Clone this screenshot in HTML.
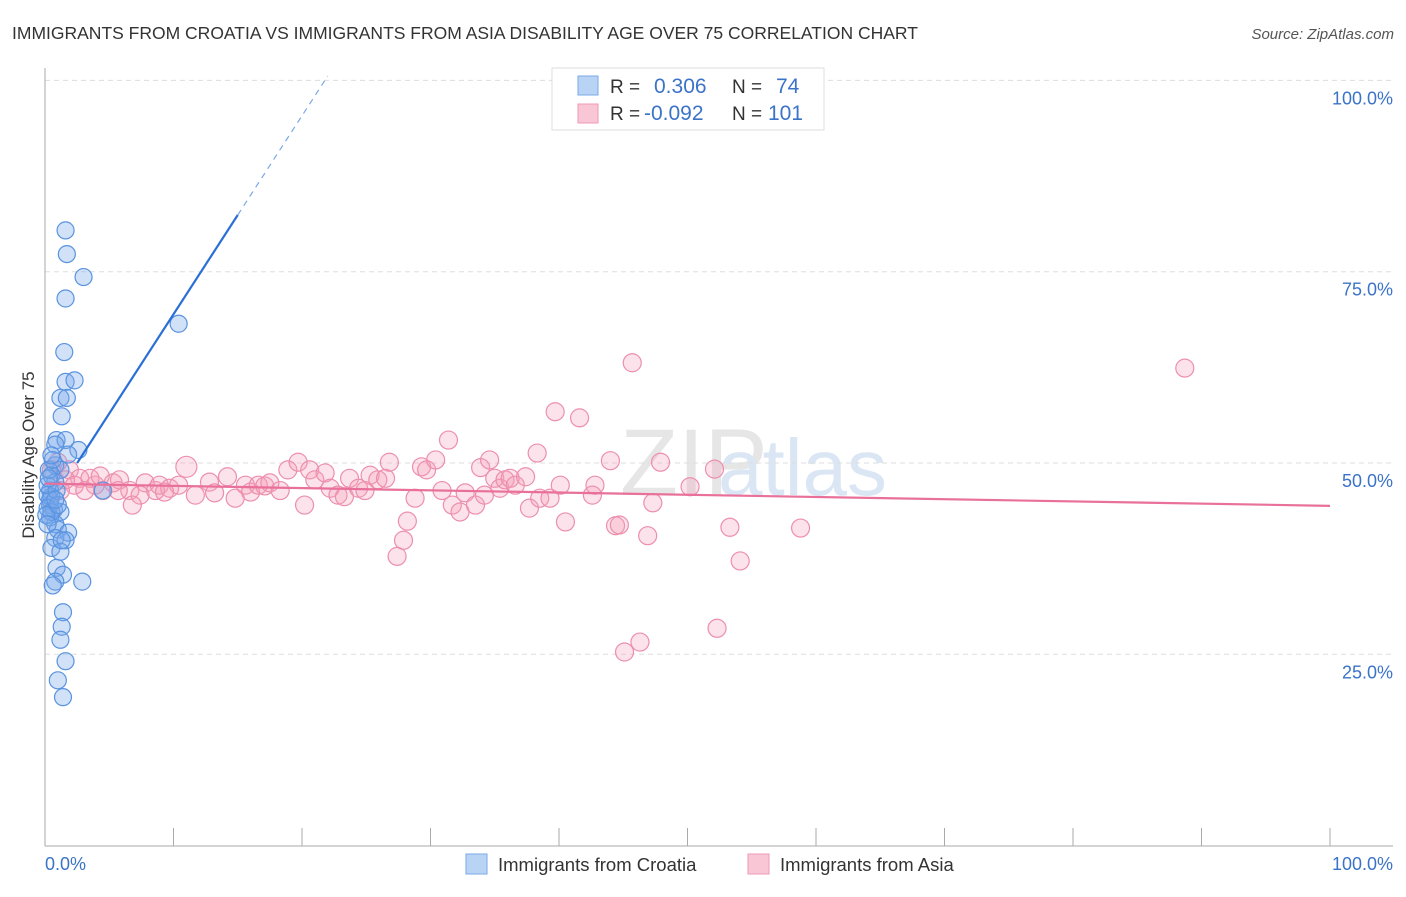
<!DOCTYPE html>
<html><head><meta charset="utf-8"><style>
body{margin:0;background:#fff;font-family:"Liberation Sans",sans-serif}
svg text{font-family:"Liberation Sans",sans-serif}
</style></head><body>
<svg id="chart" width="1406" height="892" xmlns="http://www.w3.org/2000/svg">
<text x="12" y="39" font-size="17.5" fill="#333">IMMIGRANTS FROM CROATIA VS IMMIGRANTS FROM ASIA DISABILITY AGE OVER 75 CORRELATION CHART</text>
<text x="1394" y="39" font-size="15" fill="#555" font-style="italic" text-anchor="end">Source: ZipAtlas.com</text>
<text x="620" y="495" font-size="95" fill="#e6e6e6" font-family="Liberation Serif">ZIP</text>
<text x="718" y="495" font-size="80" fill="#dbe6f5">atlas</text>
<g id="grid"></g>
<g id="axes"></g>
<g id="pts"></g>
<g id="lines"></g>
<text transform="translate(34,455) rotate(-90)" font-size="17" fill="#333" text-anchor="middle">Disability Age Over 75</text>
<text x="45" y="870" font-size="18" fill="#3b73c8">0.0%</text>
<text x="1393" y="870" font-size="18" fill="#3b73c8" text-anchor="end">100.0%</text>
<g>
<rect x="552" y="68" width="272" height="62" fill="#fff" stroke="#ddd"/>
<rect x="578" y="76" width="20" height="19" fill="#b9d3f5" stroke="#7aa8e8"/>
<rect x="578" y="104" width="20" height="19" fill="#f9c6d6" stroke="#ef9ab5"/>
<text x="610" y="93" font-size="19" fill="#333">R =</text><text x="654" y="93" font-size="21" fill="#3b73c8">0.306</text>
<text x="732" y="93" font-size="19" fill="#333">N =</text><text x="776" y="93" font-size="21" fill="#3b73c8">74</text>
<text x="610" y="120" font-size="19" fill="#333">R =</text><text x="644" y="120" font-size="21" fill="#3b73c8">-0.092</text>
<text x="732" y="120" font-size="19" fill="#333">N =</text><text x="768" y="120" font-size="21" fill="#3b73c8">101</text>
</g>
<g>
<rect x="466" y="854" width="21" height="20" fill="#b9d3f5" stroke="#7aa8e8"/>
<text x="498" y="871" font-size="18.5" fill="#333">Immigrants from Croatia</text>
<rect x="748" y="854" width="21" height="20" fill="#f9c6d6" stroke="#ef9ab5"/>
<text x="780" y="871" font-size="18.5" fill="#333">Immigrants from Asia</text>
</g>
</svg>
<script>
const yTicks=[25,50,75,100];
const yTickLabels=["25.0%","50.0%","75.0%","100.0%"];
const xTicks=[0,10,20,30,40,50,60,70,80,90,100];
const blueX=[1.6,1.7,3.0,1.6,10.4,1.5,1.6,2.3,1.2,1.7,1.3,0.9,1.6,2.6,0.8,1.8,0.8,1.2,0.5,0.8,0.4,0.5,0.4,0.7,1.2,0.4,0.8,1.0,1.8,0.8,1.6,0.5,1.2,0.9,1.4,0.8,2.9,0.6,1.4,1.3,1.2,1.6,1.0,1.4,4.5,0.2,0.4,0.2,0.5,0.2,0.9,0.3,0.6,0.1,1.0,0.2,1.3,0.3,0.5,0.8];
const blueY=[80.4,77.3,74.3,71.5,68.2,64.5,60.6,60.8,58.5,58.5,56.1,53.0,53.0,51.7,52.4,51.1,49.7,49.1,48.4,47.5,46.4,45.6,44.5,43.9,43.6,42.9,42.0,41.3,40.9,40.2,39.9,38.9,38.4,36.3,35.4,34.5,34.5,34.0,30.5,28.6,26.9,24.1,21.6,19.4,46.4,45.8,45.2,44.1,43.6,47.1,46.4,49.1,50.4,43.2,44.5,42.0,39.9,48.0,51.0,45.2];
const pinkX=[1.9,2.7,3.9,4.5,5.3,5.8,6.6,7.8,8.6,8.9,9.7,10.4,11.0,11.7,12.8,13.2,14.2,14.8,15.6,16.0,16.6,17.1,17.5,18.3,18.9,19.7,20.2,20.6,21.0,21.8,22.2,22.8,23.3,23.7,24.4,24.9,25.3,25.9,26.5,26.8,27.4,27.9,28.2,28.8,29.3,29.7,30.4,30.9,31.4,31.7,32.3,32.7,33.5,33.9,34.2,34.6,35.0,35.4,35.8,36.2,36.6,37.4,37.7,38.3,38.5,39.3,39.7,40.1,40.5,41.6,42.6,42.8,44.0,44.4,44.7,45.1,45.7,46.3,46.9,47.3,47.9,50.2,52.1,52.3,53.3,54.1,58.8,88.7,3.5,4.3,5.7,7.4,9.3,1.0,1.6,2.3,3.1,0.5,1.2,6.8];
const pinkY=[49.1,48.0,47.1,46.4,47.4,47.8,46.4,47.4,46.4,47.1,46.7,47.1,49.5,45.8,47.5,46.1,48.2,45.4,47.1,46.2,47.1,47.0,47.4,46.4,49.1,50.1,44.5,49.1,47.8,48.7,46.7,45.8,45.6,48.0,46.7,46.4,48.4,47.8,48.0,50.1,37.8,39.9,42.4,45.4,49.5,49.1,50.4,46.4,53.0,44.5,43.6,46.1,44.5,49.4,45.8,50.4,48.0,46.7,47.8,48.0,47.1,48.2,44.1,51.3,45.4,45.4,56.7,47.1,42.3,55.9,45.8,47.1,50.3,41.8,41.9,25.3,63.1,26.6,40.5,44.8,50.1,46.9,49.2,28.4,41.6,37.2,41.5,62.4,48.0,48.3,46.4,45.8,46.2,50.1,47.8,47.1,46.4,49.1,46.4,44.5];
const blueFit=[43.5,2.594];
const pinkFit=[47.3,-0.029];
const sx=v=>45+v*12.85;
const sy=v=>845.6-v*7.652;
const NS="http://www.w3.org/2000/svg";
function mk(parent,tag,attrs){const e=document.createElementNS(NS,tag);for(const k in attrs)e.setAttribute(k,attrs[k]);document.getElementById(parent).appendChild(e);return e;}
yTicks.forEach((t,i)=>{
 const l=mk('grid','line',{x1:45,x2:1393,y1:sy(t),y2:sy(t),stroke:'#ddd','stroke-dasharray':'5,4'});
 
 
 const tx=mk('grid','text',{x:1393,y:sy(t)+24,'font-size':18,fill:'#3b73c8','text-anchor':'end'});
 tx.textContent=yTickLabels[i];
 
 
});
const ya=mk('axes','line',{x1:45,x2:45,y1:68,y2:846,stroke:'#aaa'});


const xa=mk('axes','line',{x1:45,x2:1393,y1:846,y2:846,stroke:'#aaa'});


xTicks.forEach(t=>{
 const l=mk('axes','line',{x1:sx(t),x2:sx(t),y1:828,y2:846,stroke:'#aaa'});
 
 
});
pinkX.forEach((x,i)=>{
 const c=mk('pts','circle',{cx:sx(x),cy:sy(pinkY[i]),r:(i==12?10.5:9),fill:'rgba(244,160,186,0.3)',stroke:'#ec8fae','stroke-width':1.2});
 
 
});
blueX.forEach((x,i)=>{
 const c=mk('pts','circle',{cx:sx(x),cy:sy(blueY[i]),r:8.5,fill:'rgba(120,170,235,0.35)',stroke:'#5a93e0','stroke-width':1.2});
 
 
});
const bl=mk('lines','line',{x1:sx(2.5),y1:sy(blueFit[0]+blueFit[1]*2.5),x2:sx(15),y2:sy(blueFit[0]+blueFit[1]*15),stroke:'#2a6fd6','stroke-width':2.2});


const bd=mk('lines','line',{x1:sx(15),y1:sy(blueFit[0]+blueFit[1]*15),x2:sx(22),y2:sy(blueFit[0]+blueFit[1]*22),stroke:'#7aa8e8','stroke-width':1.2,'stroke-dasharray':'6,5'});


const pl=mk('lines','line',{x1:sx(0),y1:sy(pinkFit[0]),x2:sx(100),y2:sy(pinkFit[0]+pinkFit[1]*100),stroke:'#e8709a','stroke-width':2.2});


</script>
</body></html>
